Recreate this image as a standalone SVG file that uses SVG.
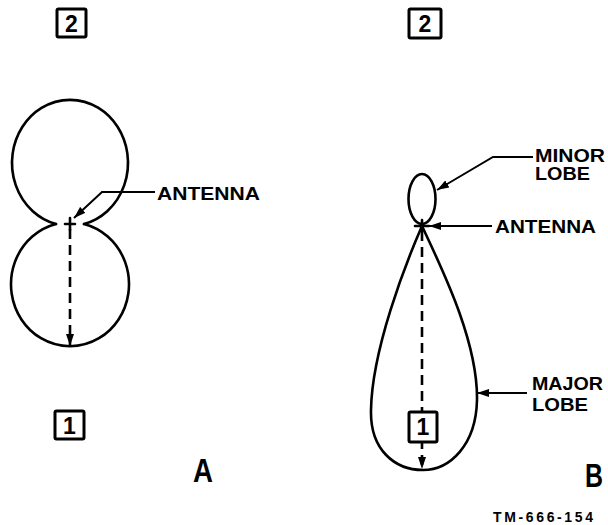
<svg xmlns="http://www.w3.org/2000/svg" width="608" height="525" viewBox="0 0 608 525">
<style>
.ln{fill:none;stroke:#000;stroke-width:2.6;stroke-linecap:round;stroke-linejoin:round}
.ld{fill:none;stroke:#000;stroke-width:2}
.ds{fill:none;stroke:#000;stroke-width:2.6;stroke-dasharray:10 6}
.bx{fill:#fff;stroke:#000;stroke-width:3}
.t{font-family:"Liberation Sans",Arial,sans-serif;font-weight:bold;fill:#000}
.lb{font-size:19px}
.n{font-size:23px;text-anchor:middle}
</style>
<defs>
<marker id="ah" viewBox="0 0 12 8" refX="12" refY="4" markerWidth="12" markerHeight="8" markerUnits="userSpaceOnUse" orient="auto">
<path d="M0,0 L12,4 L0,8 Z" fill="#000"/>
</marker>
</defs>
<rect width="608" height="525" fill="#fff"/>

<g id="connectors">
<path class="ds" d="M70,229 L70,346" marker-end="url(#ah)"/>
<path class="ld" d="M155,192 L102,192 L74,218" marker-end="url(#ah)"/>
<path class="ds" d="M422,231 L422,469" marker-end="url(#ah)"/>
<path class="ld" d="M533,157 L493,157 L437,190" marker-end="url(#ah)"/>
<path class="ld" d="M492,226 L429,226" marker-end="url(#ah)"/>
<path class="ld" d="M527,393 L477,393" marker-end="url(#ah)"/>
</g>

<g id="patternA">
<path class="ln" d="M56,224 A58,63 0 1 1 84,224"/>
<path class="ln" d="M56,224 A59,62 0 1 0 84,224"/>
<path class="ln" d="M65,224 L75,224 M70,218 L70,230"/>
</g>

<g id="patternB">
<ellipse class="ln" cx="422" cy="199" rx="13.5" ry="25"/>
<path class="ln" d="M422,226 C440,265 478,340 477,400 C476,445 450,470 423,470 C395,470 370,450 371,410 C372,350 405,265 422,226 Z"/>
<path class="ln" d="M415,226 L429,226 M422,220 L422,231"/>
</g>

<g id="boxA2"><rect class="bx" x="57" y="9" width="29" height="28" rx="1.5"/><text class="t n" x="71.5" y="31.5">2</text></g>
<g id="boxA1"><rect class="bx" x="55" y="411" width="29" height="28" rx="1.5"/><text class="t n" x="69.5" y="433.5">1</text></g>
<g id="boxB2"><rect class="bx" x="409" y="9" width="32" height="29" rx="1.5"/><text class="t n" x="425" y="32">2</text></g>
<g id="boxB1"><rect class="bx" x="409" y="412" width="28" height="30" rx="1.5"/><text class="t n" x="423" y="435">1</text></g>

<g id="labelAntennaA"><text class="t lb" x="157" y="200" textLength="103" lengthAdjust="spacingAndGlyphs">ANTENNA</text></g>
<g id="labelMinor"><text class="t" font-size="18" x="535" y="162" textLength="70" lengthAdjust="spacingAndGlyphs">MINOR</text><text class="t" font-size="18" x="535" y="180" textLength="55" lengthAdjust="spacingAndGlyphs">LOBE</text></g>
<g id="labelAntennaB"><text class="t lb" x="495" y="233" textLength="101" lengthAdjust="spacingAndGlyphs">ANTENNA</text></g>
<g id="labelMajor"><text class="t lb" x="532" y="390" textLength="71" lengthAdjust="spacingAndGlyphs">MAJOR</text><text class="t lb" x="532" y="411" textLength="56" lengthAdjust="spacingAndGlyphs">LOBE</text></g>
<g id="captions">
<text class="t" x="193" y="482" font-size="34" textLength="20" lengthAdjust="spacingAndGlyphs">A</text>
<text class="t" x="585" y="487" font-size="34" textLength="18" lengthAdjust="spacingAndGlyphs">B</text>
<text class="t" x="493" y="522" font-size="14" textLength="100" lengthAdjust="spacing">TM-666-154</text>
</g>
</svg>
